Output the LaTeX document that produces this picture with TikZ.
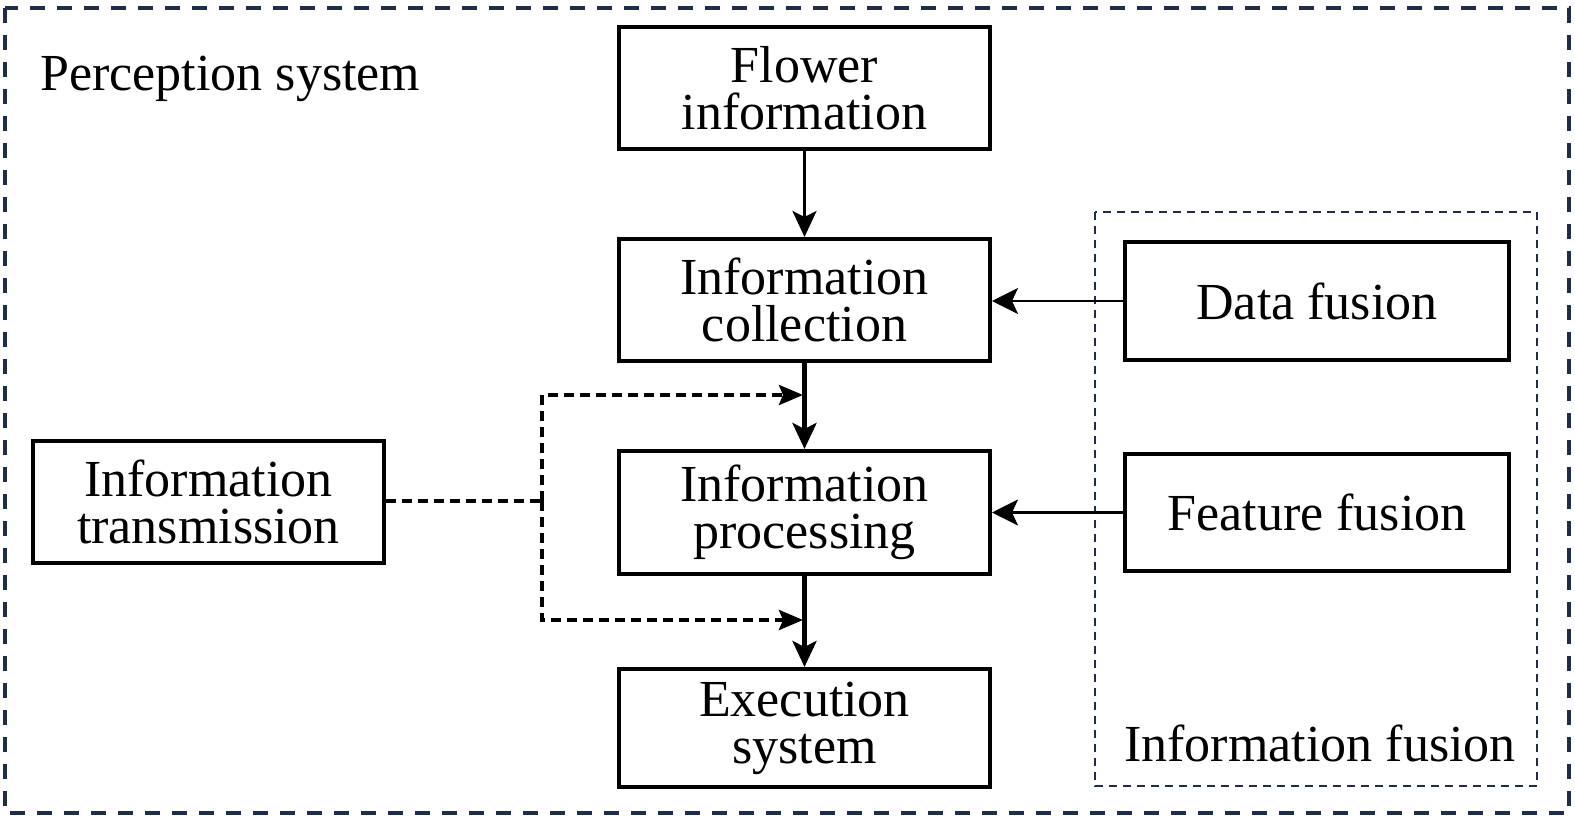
\documentclass[tikz,border=0pt]{standalone}
\usepackage{fontspec}
\setmainfont{Liberation Serif}
\usetikzlibrary{arrows.meta}
\definecolor{navy}{HTML}{1F2D4A}
\begin{document}
\begin{tikzpicture}[x=0.5pt,y=-0.5pt,
  every node/.style={font=\fontsize{26}{23.5}\selectfont},
  blk/.style={draw=black, line width=2pt, align=center, inner sep=0pt},
  arr/.style={line width=1.5pt, -{Stealth[length=13pt,width=12pt,inset=3pt]}},
  thinarr/.style={line width=1.3pt, -{Stealth[length=13pt,width=13pt,inset=3pt]}},
  dsh/.style={line width=1.9pt, dash pattern=on 5pt off 3pt},
  dsharr/.style={dsh, -{Stealth[length=12pt,width=10pt,inset=2pt]}}
]
\useasboundingbox (0,0) rectangle (1575,818);
\draw[navy, line width=1.8pt, dash pattern=on 7.5pt off 6pt] (5,8) rectangle (1569,813);
\draw[navy, line width=1pt, dash pattern=on 4pt off 3pt] (1095,212) rectangle (1537,786);

\node[anchor=west, inner sep=0pt] (ps) at (40,79) {Perception system};
\node (if) at (1320,743) {Information fusion};

\node[blk, minimum width=185.5pt, minimum height=61pt] (fi) at (804.5,88) {Flower\\information};
\node[blk, minimum width=185.5pt, minimum height=61pt] (ic) at (804.5,300) {Information\\collection};
\node[blk, minimum width=185.5pt, minimum height=61.5pt] (ip) at (804.5,512.5) {Information\\processing};
\node[blk, minimum width=185.5pt, minimum height=59pt] (es) at (804.5,728) {Execution\\system};
\node[blk, minimum width=175.5pt, minimum height=61pt] (it) at (208.5,502) {Information\\transmission};
\node[blk, minimum width=192pt, minimum height=59pt] (df) at (1317,301) {Data fusion};
\node[blk, minimum width=192pt, minimum height=58.5pt] (ff) at (1317,512.5) {Feature fusion};

\draw[arr] (fi) -- (ic);
\draw[arr, line width=2.3pt] (ic) -- (ip);
\draw[arr, line width=2.3pt] (ip) -- (es);
\draw[thinarr] (df.west) -- (ic.east |- df.west);
\draw[thinarr] (ff.west) -- (ip.east |- ff.west);

\coordinate (j) at (542,501);
\coordinate (jt) at (542,395);
\coordinate (jb) at (542,620);
\coordinate (at) at (803,395);
\coordinate (ab) at (803,620);
\draw[dsh] (it.east |- j) -- (j);
\draw[dsharr] (j) -- (jt) -- (at);
\draw[dsharr] (j) -- (jb) -- (ab);
\end{tikzpicture}
\end{document}
